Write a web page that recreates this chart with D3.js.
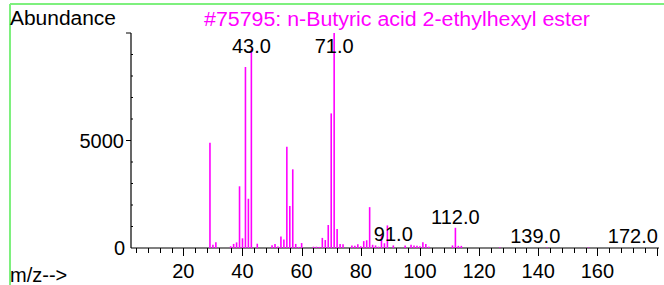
<!DOCTYPE html>
<html>
<head>
<meta charset="utf-8">
<script src="https://cdn.jsdelivr.net/npm/d3@7"></script>
<style>
  html, body { margin: 0; padding: 0; background: #fff; }
  svg { display: block; font-family: Arial, "Liberation Sans", sans-serif; }
</style>
</head>
<body>
<div id="chart"></div>
<script>
// Mass spectrum - n-Butyric acid 2-ethylhexyl ester

const title = '#75795: n-Butyric acid 2-ethylhexyl ester';

// m/z and abundance
const mzValues = [29, 30, 31, 36, 37, 38, 39, 40, 41, 42, 43, 45,
    50, 51, 52, 53, 54, 55, 56, 57, 58, 59, 60, 64, 65, 66, 67, 68, 69, 70, 71, 72, 73, 74,
    77, 78, 79, 80, 81, 82, 83, 84, 85, 86, 87, 88, 89, 91, 95, 97, 98, 99, 100, 101, 102, 103,
    111, 112, 113, 114, 127, 143, 157];
const abundances = [4900, 150, 270, 80, 190, 260, 2870, 450, 8420, 2290, 9250, 200,
    130, 190, 70, 540, 390, 4710, 1950, 3660, 190, 50, 230, 60, 60, 50, 470, 370, 1070, 6260, 10000, 880, 190, 180,
    120, 100, 170, 80, 320, 360, 1900, 150, 120, 60, 600, 220, 1050, 120, 120, 150, 120, 100, 80, 270, 190, 60,
    120, 940, 100, 100, 30, 25, 25];

// labelled peaks
const labelMz = [43, 71, 91, 112, 139, 172];

// axis ticks
const xMajorTicks = [20, 40, 60, 80, 100, 120, 140, 160];
const yLabelTicks = [0, 5000];

const width = 664, height = 285;

const svg = d3.select('#chart').append('svg')
    .attr('width', width)
    .attr('height', height);

// green frame lines
svg.append('line').attr('x1', 10).attr('x2', width).attr('y1', 4).attr('y2', 4)
    .attr('stroke', '#7ef07e').attr('stroke-width', 2);
svg.append('line').attr('x1', 10).attr('x2', 10).attr('y1', 4).attr('y2', height)
    .attr('stroke', '#7ef07e').attr('stroke-width', 2);

// scales
const x = d3.scaleLinear().domain([0, 180]).range([124.2, 656.5]);
const y = d3.scaleLinear().domain([0, 10000]).range([248, 33]);

const x0 = 131, x1 = 659;
const baseY = y(0);

// y axis
const yAxis = svg.append('g');
yAxis.append('line')
    .attr('x1', x0).attr('x2', x0)
    .attr('y1', y(10000)).attr('y2', baseY)
    .attr('stroke', '#000').attr('stroke-width', 1.2);
yAxis.selectAll('.ytick')
    .data(d3.range(1000, 10001, 1000))
    .enter().append('line')
    .attr('x1', d => d % 5000 === 0 ? x0 - 5 : x0)
    .attr('x2', d => d % 5000 === 0 ? x0 : x0 + 2)
    .attr('y1', d => y(d)).attr('y2', d => y(d))
    .attr('stroke', '#000').attr('stroke-width', 1);
yAxis.selectAll('.ylab')
    .data(yLabelTicks)
    .enter().append('text')
    .attr('x', d => d === 0 ? x0 - 6 : x0 - 7)
    .attr('y', d => y(d) + 7)
    .attr('text-anchor', 'end')
    .attr('font-size', 20)
    .text(d => d);

// x axis
const xAxis = svg.append('g');
xAxis.append('line')
    .attr('x1', x0).attr('x2', x1)
    .attr('y1', baseY).attr('y2', baseY)
    .attr('stroke', '#000').attr('stroke-width', 1.2);
xAxis.selectAll('.xtick')
    .data(d3.range(4, 181, 4))
    .enter().append('line')
    .attr('x1', d => Math.round(x(d)) + 0.5).attr('x2', d => Math.round(x(d)) + 0.5)
    .attr('y1', baseY)
    .attr('y2', d => d % 20 === 0 ? baseY + 8 : baseY + 5)
    .attr('stroke', '#000').attr('stroke-width', 1);
xAxis.selectAll('.xlab')
    .data(xMajorTicks)
    .enter().append('text')
    .attr('x', d => x(d))
    .attr('y', 278)
    .attr('text-anchor', 'middle')
    .attr('font-size', 20)
    .text(d => d);

// peaks
const peaks = mzValues.map((mz, i) => ({ mz: mz, ab: abundances[i] }));
svg.append('g')
    .selectAll('line')
    .data(peaks)
    .enter().append('line')
    .attr('x1', d => x(d.mz)).attr('x2', d => x(d.mz))
    .attr('y1', baseY).attr('y2', d => y(d.ab))
    .attr('stroke', '#ff00ff')
    .attr('stroke-width', 1.6);

// peak labels
function abundanceAt(mz) {
    const i = mzValues.indexOf(mz);
    return i < 0 ? 0 : abundances[i];
}
svg.append('g')
    .selectAll('text')
    .data(labelMz)
    .enter().append('text')
    .attr('x', d => x(d))
    .attr('y', d => Math.max(53, Math.min(243, y(abundanceAt(d)) - 4)))
    .attr('text-anchor', 'middle')
    .attr('font-size', 20)
    .attr('fill', '#000')
    .text(d => d.toFixed(1));

// titles
svg.append('text')
    .attr('x', 10).attr('y', 25)
    .attr('font-size', 20)
    .attr('textLength', 106)
    .attr('lengthAdjust', 'spacingAndGlyphs')
    .text('Abundance');
svg.append('text')
    .attr('x', 204).attr('y', 26)
    .attr('font-size', 20)
    .attr('fill', '#ff00ff')
    .attr('textLength', 386)
    .attr('lengthAdjust', 'spacingAndGlyphs')
    .text(title);
svg.append('text')
    .attr('x', 10).attr('y', 282)
    .attr('font-size', 20)
    .text('m/z-->');
</script>
</body>
</html>
